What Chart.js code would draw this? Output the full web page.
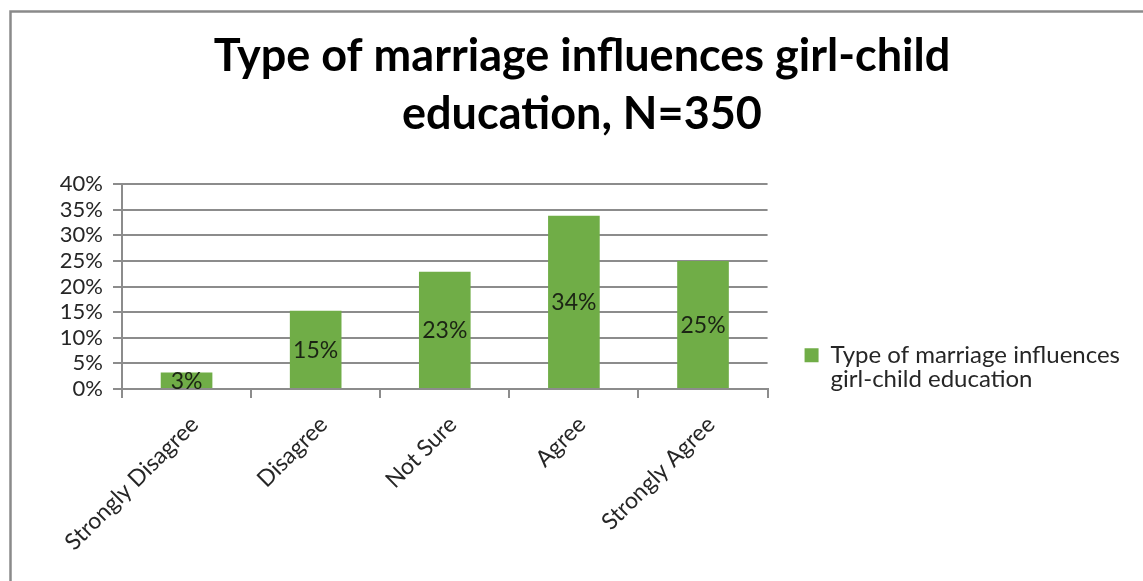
<!DOCTYPE html>
<html>
<head>
<meta charset="utf-8">
<script src="https://cdn.jsdelivr.net/npm/chart.js@4.4.1/dist/chart.umd.min.js"></script>
<style>
  html, body { margin: 0; padding: 0; background: #fff; }
  #wrap { width: 1143px; height: 581px; }
</style>
</head>
<body>
<div id="wrap"><canvas id="chart"></canvas></div>
<script>
const categories = ["Strongly Disagree", "Disagree", "Not Sure", "Agree", "Strongly Agree"];
const values = [3.2, 15.3, 22.9, 33.8, 25.0];
const yTicks = [0, 5, 10, 15, 20, 25, 30, 35, 40];
const seriesName = "Type of marriage influences girl-child education";
const legendLines = ["Type of marriage influences", "girl-child education"];
const titleLines = ["Type of marriage influences girl-child", "education, N=350"];

const FONT = "Lato, 'Open Sans', sans-serif";
const GREEN = "#70AD47";
const GRID = "#8c8c8c";

// gray frame on the top and left, like the cropped Excel chart border
const framePlugin = {
  id: "frame",
  beforeDraw(chart) {
    const ctx = chart.ctx;
    ctx.save();
    ctx.fillStyle = "#fff";
    ctx.fillRect(0, 0, chart.width, chart.height);
    ctx.strokeStyle = "#8a8a8a";
    ctx.lineWidth = 2.5;
    ctx.beginPath();
    ctx.moveTo(10.5, chart.height);
    ctx.lineTo(10.5, 11.5);
    ctx.lineTo(chart.width, 11.5);
    ctx.stroke();
    ctx.restore();
  }
};

// value labels centred inside each bar
const barLabels = {
  id: "barLabels",
  afterDatasetsDraw(chart) {
    const ctx = chart.ctx;
    const meta = chart.getDatasetMeta(0);
    ctx.save();
    ctx.font = "23px " + FONT;
    ctx.fillStyle = "#1b2414";
    ctx.textAlign = "center";
    ctx.textBaseline = "middle";
    meta.data.forEach((bar, i) => {
      const v = chart.data.datasets[0].data[i];
      ctx.fillText(Math.round(v) + "%", bar.x, (bar.y + bar.base) / 2 + 1);
    });
    ctx.restore();
  }
};

new Chart(document.getElementById("chart"), {
  type: "bar",
  data: {
    labels: categories,
    datasets: [{
      label: seriesName,
      data: values,
      backgroundColor: GREEN,
      borderWidth: 0,
      categoryPercentage: 1.0,
      barPercentage: 0.4
    }]
  },
  options: {
    responsive: true,
    maintainAspectRatio: false,
    animation: false,
    devicePixelRatio: 1,
    layout: { padding: { left: 34, right: 13, top: 0, bottom: 0 } },
    plugins: {
      title: {
        display: true,
        text: titleLines,
        color: "#000",
        font: { family: FONT, size: 45, weight: "bold", lineHeight: 1.29 },
        padding: { top: 27, bottom: 41 }
      },
      legend: {
        display: true,
        position: "right",
        align: "center",
        maxWidth: 420,
        // empty legend title only pushes the entry down to sit beside the lower plot
        title: { display: true, text: "", font: { size: 12, lineHeight: 1.2 }, padding: { top: 0, bottom: 139 } },
        labels: {
          color: "#262626",
          font: { family: FONT, size: 24, lineHeight: 1.0 },
          boxWidth: 14,
          boxHeight: 14,
          padding: 37,
          generateLabels(chart) {
            const items = Chart.defaults.plugins.legend.labels.generateLabels(chart);
            items.forEach(it => { it.text = legendLines; it.lineWidth = 0; });
            return items;
          }
        }
      },
      tooltip: { enabled: false }
    },
    scales: {
      x: {
        afterFit(axis) { axis.height = 192; },
        grid: {
          display: true,
          offset: true,
          drawOnChartArea: false,
          drawTicks: true,
          tickLength: 9,
          color: GRID,
          lineWidth: 2
        },
        border: { color: GRID, width: 2 },
        ticks: {
          color: "#262626",
          font: { family: FONT, size: 23 },
          minRotation: 45,
          maxRotation: 45,
          labelOffset: 8,
          padding: 13
        }
      },
      y: {
        min: 0,
        max: 40,
        afterBuildTicks(axis) { axis.ticks = yTicks.map(v => ({ value: v })); },
        afterFit(axis) { axis.width = 88; },
        grid: { color: GRID, lineWidth: 2, drawTicks: true, tickLength: 9 },
        border: { color: GRID, width: 2 },
        ticks: {
          color: "#262626",
          font: { family: FONT, size: 22 },
          padding: 10,
          autoSkip: false,
          callback: v => v + "%"
        }
      }
    }
  },
  plugins: [framePlugin, barLabels]
});
</script>
</body>
</html>
